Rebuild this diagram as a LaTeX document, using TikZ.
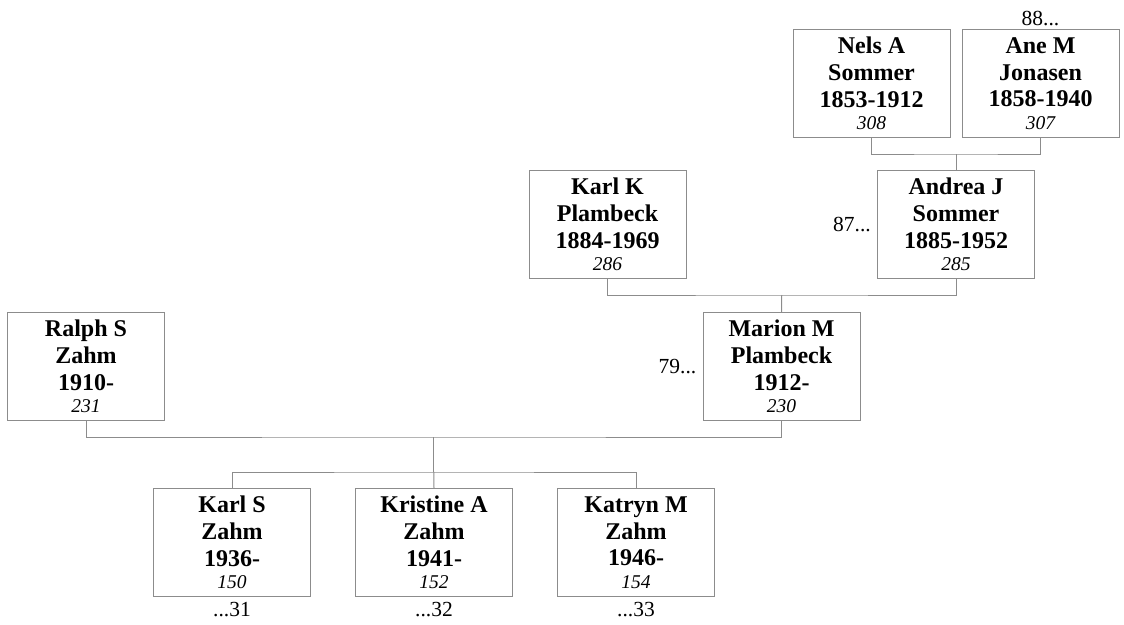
\documentclass[tikz,border=0pt]{standalone}
\usepackage{fontspec}
\setmainfont{Liberation Serif}
\usepackage{tikz}
\usetikzlibrary{positioning,calc}
\definecolor{famline}{HTML}{8C8C8C}
\definecolor{famink}{HTML}{000000}
\newcommand{\namefont}{\fontsize{24}{26.7}\selectfont\bfseries}
\newcommand{\numfont}{\fontsize{19.5}{26.7}\selectfont\mdseries\itshape}
\newcommand{\reffont}{\fontsize{21.5}{24}\selectfont}
% one box of the chart: first name, surname, years, number
\newcommand{\who}[4]{#1\\#2\\#3\\[-4.4pt]{\numfont #4}}
\tikzset{
  person/.style = {rectangle, draw=famline, line width=1pt, fill=white, align=center,
                   minimum width=157pt, minimum height=108pt, inner sep=0pt,
                   text=famink, font=\namefont},
  link/.style   = {draw=famline, line width=1pt},
  ref/.style    = {font=\reffont, text=famink, inner sep=1pt},
}

\begin{document}
\begin{tikzpicture}[x=1pt, y=-1pt]
\useasboundingbox (0,0) rectangle (1124,624);
% generation 1
\node[person] (nels) at (871.5,83.5) {\who{Nels A}{Sommer}{1853-1912}{308}};
\node[person] (ane) at (1040.5,83.5) {\who{Ane M}{Jonasen}{1858-1940}{307}};
% generation 2
\node[person] (karlk) at (607.5,224.5) {\who{Karl K}{Plambeck}{1884-1969}{286}};
\node[person] (andrea) at (956,224.5) {\who{Andrea J}{Sommer}{1885-1952}{285}};
% generation 3
\node[person] (ralph) at (86,366.5) {\who{Ralph S}{Zahm}{1910-}{231}};
\node[person] (marion) at (781.5,366.5) {\who{Marion M}{Plambeck}{1912-}{230}};
% children
\node[person] (karls) at (232,542.5) {\who{Karl S}{Zahm}{1936-}{150}};
\node[person] (kristine) at (434,542.5) {\who{Kristine A}{Zahm}{1941-}{152}};
\node[person] (katryn) at (636,542.5) {\who{Katryn M}{Zahm}{1946-}{154}};

\node[ref, above=2pt of ane] (refane) {88...};
\node[ref, left=5pt of andrea] (refandrea) {87...};
\node[ref, left=5pt of marion] (refmarion) {79...};
\node[ref, below=4pt of karls] (refkarls) {...31};
\node[ref, below=4pt of kristine] (refkristine) {...32};
\node[ref, below=4pt of katryn] (refkatryn) {...33};

\coordinate (bar1) at ($(nels.south)!0.5!(ane.south)+(0,16)$);
\coordinate (bar2) at ($(karlk.south)!0.5!(andrea.south)+(0,16)$);
\coordinate (bar3) at ($(ralph.south)!0.5!(marion.south)+(0,16)$);
\coordinate (kids) at ($(bar3)+(0,35)$);

\draw[link] (nels.south) |- (bar1) -| (ane.south);
\draw[link] (bar1) -- (andrea.north);
\draw[link] (karlk.south) |- (bar2) -| (andrea.south);
\draw[link] (bar2) -- (marion.north);
\draw[link] (ralph.south) |- (bar3) -| (marion.south);
\draw[link] (bar3) -- (kids);
\draw[link] (karls.north) |- (kids) -| (katryn.north);
\draw[link] (kids) -- (kristine.north);
\end{tikzpicture}
\end{document}
